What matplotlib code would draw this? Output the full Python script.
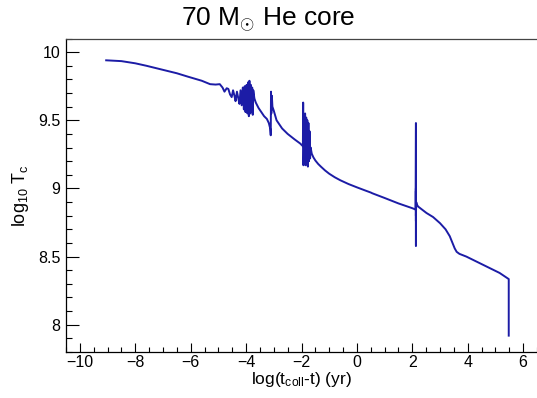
import matplotlib
matplotlib.use("Agg")
import matplotlib.pyplot as plt
from matplotlib.ticker import MultipleLocator

plt.rcParams['font.family'] = ['Liberation Sans', 'DejaVu Sans']
plt.rcParams['mathtext.fontset'] = 'custom'
plt.rcParams['mathtext.rm'] = 'Liberation Sans'
plt.rcParams['mathtext.it'] = 'Liberation Sans'
plt.rcParams['mathtext.bf'] = 'Liberation Sans'

# log(t_coll - t) [yr]
log_t = [-9.05, -8.5, -8.0, -7.6, -7.0, -6.5, -6.1, -5.6, -5.3, -5.1, -4.95, -4.85,
         -4.78, -4.70, -4.64, -4.58, -4.52, -4.47, -4.42, -4.38, -4.33, -4.28, -4.24,
         -4.20, -4.16, -4.12, -4.08, -4.05, -4.02, -3.98, -3.95, -3.92, -3.90, -3.88,
         -3.85, -3.83, -3.80, -3.78, -3.76, -3.74, -3.70, -3.65, -3.55, -3.45, -3.35,
         -3.25, -3.18, -3.13, -3.11, -3.10, -3.09, -3.07, -3.05, -3.0, -2.9, -2.7,
         -2.5, -2.25, -2.05, -1.95, -1.94, -1.93, -1.91, -1.89, -1.87, -1.85, -1.83,
         -1.81, -1.79, -1.77, -1.75, -1.73, -1.71, -1.69, -1.67, -1.63, -1.57, -1.5,
         -1.4, -1.3, -1.15, -1.0, -0.8, -0.6, -0.3, 0.0, 0.3, 0.5, 0.55, 0.6, 1.0, 1.5,
         2.0, 2.12, 2.13, 2.13, 2.13, 2.13, 2.13, 2.13, 2.14, 2.17, 2.21, 2.35, 2.51,
         2.75, 3.0, 3.2, 3.35, 3.45, 3.53, 3.6, 3.7, 3.95, 4.25, 4.55, 4.85, 5.15,
         5.48, 5.48]
log_Tc = [9.940, 9.934, 9.918, 9.900, 9.870, 9.845, 9.820, 9.790, 9.765, 9.762, 9.765, 9.74,
          9.71, 9.735, 9.73, 9.69, 9.67, 9.72, 9.68, 9.64, 9.71, 9.66, 9.62,
          9.72, 9.61, 9.74, 9.58, 9.75, 9.56, 9.76, 9.55, 9.78, 9.53, 9.79,
          9.55, 9.76, 9.56, 9.74, 9.54, 9.72, 9.66, 9.63, 9.59, 9.56, 9.53,
          9.51, 9.48, 9.44, 9.39, 9.71, 9.55, 9.68, 9.60, 9.57, 9.50, 9.44,
          9.40, 9.36, 9.33, 9.31, 9.63, 9.17, 9.45, 9.20, 9.55, 9.17, 9.52,
          9.18, 9.50, 9.16, 9.48, 9.20, 9.42, 9.22, 9.30, 9.255, 9.228, 9.205,
          9.18, 9.16, 9.132, 9.108, 9.082, 9.060, 9.032, 9.008, 8.985, 8.970, 8.965, 8.961, 8.93, 8.89,
          8.855, 8.845, 9.48, 8.58, 9.0, 8.76, 8.98, 8.80, 8.90, 8.88, 8.867, 8.845, 8.82,
          8.79, 8.745, 8.70, 8.65, 8.60, 8.56, 8.535, 8.52, 8.50, 8.47, 8.44, 8.41, 8.38,
          8.335, 7.92]

fig = plt.figure(figsize=(5.37, 3.98), dpi=100)
W, H = 537, 398
ax = fig.add_axes([66 / W, (H - 352) / H, (537 - 66) / W, (352 - 38.5) / H])

ax.plot(log_t, log_Tc, color='#1c1ca6', lw=1.4)

ax.set_xlim(-10.5, 6.5)
ax.set_ylim(7.8, 10.1)
ax.xaxis.set_major_locator(MultipleLocator(2))
ax.xaxis.set_minor_locator(MultipleLocator(0.5))
ax.yaxis.set_major_locator(MultipleLocator(0.5))
ax.yaxis.set_minor_locator(MultipleLocator(0.1))
ax.yaxis.set_major_formatter(matplotlib.ticker.FuncFormatter(lambda v, p: f'{v:g}'))

ax.tick_params(axis='both', which='both', direction='in', labelsize=11.5, color='black')
ax.tick_params(axis='y', which='major', length=9, width=0.8, pad=4)
ax.tick_params(axis='y', which='minor', length=4.5, width=0.8)
ax.tick_params(axis='x', which='major', length=6.5, width=0.8, pad=2)
ax.tick_params(axis='x', which='minor', length=3.5, width=0.8)
ax.spines['right'].set_visible(False)
for s in ['left', 'bottom', 'top']:
    ax.spines[s].set_linewidth(0.9)
ax.spines['top'].set_color('#444444')

ax.set_xlabel(r'log(t$_{\mathregular{coll}}$-t) (yr)', fontsize=12.5, labelpad=0.5)
ax.set_ylabel(r'log$_{\mathregular{10}}$ T$_{\mathregular{c}}$', fontsize=13, labelpad=5)

fig.text(0.5, 1 - 20 / H, r'70 M$_{\odot}$ He core', ha='center', va='center', fontsize=19)

fig.savefig('out.png', dpi=100)
